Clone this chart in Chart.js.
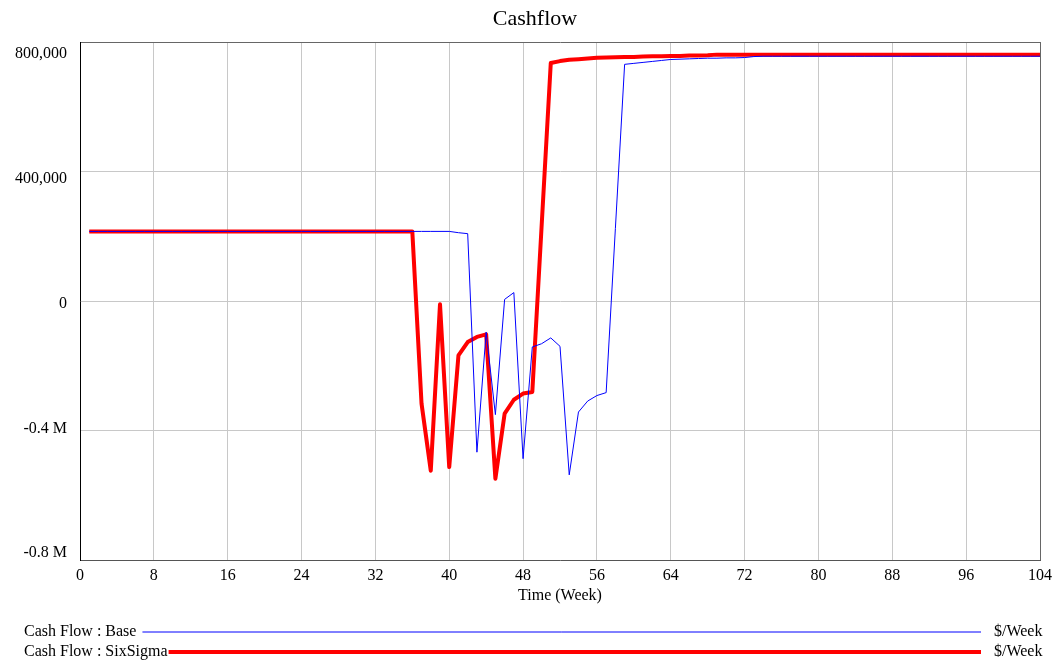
<!DOCTYPE html>
<html>
<head>
<meta charset="utf-8">
<script src="https://cdn.jsdelivr.net/npm/chart.js@4/dist/chart.umd.min.js"></script>
<style>
  html, body { margin: 0; padding: 0; background: #fff; }
  #wrap { width: 1054px; height: 663px; position: relative; }
</style>
</head>
<body>
<div id="wrap"><canvas id="cashChart"></canvas></div>
<script>
// Weeks 1..104
var weeks = [
  1, 2, 3, 4, 5, 6, 7, 8, 9, 10, 11, 12, 13, 14, 15, 16, 17, 18, 19, 20,
  21, 22, 23, 24, 25, 26, 27, 28, 29, 30, 31, 32, 33, 34, 35, 36, 37, 38, 39, 40,
  41, 42, 43, 44, 45, 46, 47, 48, 49, 50, 51, 52, 53, 54, 55, 56, 57, 58, 59, 60,
  61, 62, 63, 64, 65, 66, 67, 68, 69, 70, 71, 72, 73, 74, 75, 76, 77, 78, 79, 80,
  81, 82, 83, 84, 85, 86, 87, 88, 89, 90, 91, 92, 93, 94, 95, 96, 97, 98, 99, 100,
  101, 102, 103, 104
];

// Cash Flow : Base ($/Week)
var baseFlow = [
  215000, 215000, 215000, 215000, 215000, 215000, 215000, 215000, 215000, 215000,
  215000, 215000, 215000, 215000, 215000, 215000, 215000, 215000, 215000, 215000,
  215000, 215000, 215000, 215000, 215000, 215000, 215000, 215000, 215000, 215000,
  215000, 215000, 215000, 215000, 215000, 215000, 215000, 215000, 215000, 215000,
  211000, 208000, -467000, -96000, -351000, 5000, 26000, -487000, -142000, -132000,
  -114000, -140000, -537000, -343000, -309000, -292000, -283000, 224000, 731000, 734000,
  737000, 740000, 743000, 746000, 747000, 748000, 749000, 750000, 750000, 751000,
  751000, 752000, 755000, 756000, 756000, 756000, 756000, 756000, 756000, 756000,
  756000, 756000, 756000, 756000, 756000, 756000, 756000, 756000, 756000, 756000,
  756000, 756000, 756000, 756000, 756000, 756000, 756000, 756000, 756000, 756000,
  756000, 756000, 756000, 756000
];

// Cash Flow : SixSigma ($/Week)
var sixSigmaFlow = [
  215000, 215000, 215000, 215000, 215000, 215000, 215000, 215000, 215000, 215000,
  215000, 215000, 215000, 215000, 215000, 215000, 215000, 215000, 215000, 215000,
  215000, 215000, 215000, 215000, 215000, 215000, 215000, 215000, 215000, 215000,
  215000, 215000, 215000, 215000, 215000, 215000, -317000, -524000, -10000, -513000,
  -168000, -127000, -111000, -103000, -549000, -348000, -305000, -286000, -281000, 227000,
  735000, 741000, 745000, 747000, 749000, 751000, 752000, 753000, 754000, 754000,
  755000, 756000, 756000, 757000, 757000, 758000, 758000, 759000, 761000, 761000,
  761000, 761000, 761000, 761000, 761000, 761000, 761000, 761000, 761000, 761000,
  761000, 761000, 761000, 761000, 761000, 761000, 761000, 761000, 761000, 761000,
  761000, 761000, 761000, 761000, 761000, 761000, 761000, 761000, 761000, 761000,
  761000, 761000, 761000, 761000
];

var chartTitle = 'Cashflow';
var seriesNames = ['Cash Flow : Base', 'Cash Flow : SixSigma'];
var seriesUnits = ['$/Week', '$/Week'];
var yTickValues = [-800000, -400000, 0, 400000, 800000];
var yTickLabels = ['-0.8 M', '-0.4 M', '0', '400,000', '800,000'];

var FONT = "'Liberation Serif', 'Times New Roman', serif";
Chart.defaults.font.family = FONT;
Chart.defaults.color = '#000';

function toPoints(vals) {
  return vals.map(function(v, i) { return { x: weeks[i], y: v }; });
}

function gridColor(edgeValue) {
  return function(c) {
    return (c.tick && c.tick.value === edgeValue) ? '#666' : '#c8c8c8';
  };
}

// title on top, legend rows under the axis: name, line, unit
var frameText = {
  id: 'frameText',
  afterDraw: function(chart) {
    var ctx = chart.ctx;
    ctx.save();
    ctx.fillStyle = '#000';
    ctx.textBaseline = 'middle';
    ctx.textAlign = 'center';
    ctx.font = '22px ' + FONT;
    ctx.fillText(chartTitle, 535, 19);

    ctx.font = '16px ' + FONT;
    ctx.textAlign = 'left';
    chart.data.datasets.forEach(function(ds, i) {
      var y = 632 + i * 20;
      ctx.fillStyle = '#000';
      ctx.fillText(ds.label, 24, y);
      var x0 = 24 + ctx.measureText(ds.label).width + (ds.borderWidth > 2 ? 1 : 6);
      ctx.strokeStyle = ds.borderColor;
      ctx.lineWidth = ds.borderWidth;
      ctx.beginPath();
      ctx.moveTo(x0, y);
      ctx.lineTo(981, y);
      ctx.stroke();
      ctx.fillText(seriesUnits[i], 994, y);
    });
    ctx.restore();
  }
};

new Chart(document.getElementById('cashChart'), {
  type: 'line',
  data: {
    datasets: [
      {
        label: seriesNames[0],
        data: toPoints(baseFlow),
        borderColor: '#0000ff',
        backgroundColor: '#0000ff',
        borderWidth: 1,
        pointRadius: 0,
        tension: 0
      },
      {
        label: seriesNames[1],
        data: toPoints(sixSigmaFlow),
        borderColor: '#ff0000',
        backgroundColor: '#ff0000',
        borderWidth: 4,
        borderJoinStyle: 'round',
        pointRadius: 0,
        tension: 0
      }
    ]
  },
  options: {
    responsive: true,
    maintainAspectRatio: false,
    animation: false,
    layout: { padding: { left: 0, right: 14, top: 42, bottom: 50 } },
    plugins: {
      legend: { display: false },
      tooltip: { enabled: false },
      title: { display: false }
    },
    scales: {
      x: {
        type: 'linear',
        min: 0,
        max: 104,
        ticks: { stepSize: 8, padding: 6, color: '#000', font: { size: 16 } },
        grid: { color: gridColor(104), drawTicks: false },
        border: { color: '#555' },
        title: {
          display: true,
          text: 'Time (Week)',
          color: '#000',
          font: { size: 16 },
          padding: { top: 0, bottom: 8 }
        },
        afterFit: function(s) {
          s.height = 53;
          s.paddingLeft = 0;
          s.paddingRight = 0;
        }
      },
      y: {
        type: 'linear',
        position: 'left',
        min: -800000,
        max: 800000,
        ticks: { stepSize: 400000, display: false },
        grid: { color: gridColor(800000), drawTicks: false },
        border: { color: '#000' },
        afterFit: function(s) { s.width = 0; }
      },
      // label-only axis: Vensim pulls the edge labels inward a little
      yLabels: {
        type: 'linear',
        position: 'left',
        weight: 1,
        min: -822000,
        max: 838000,
        grid: { display: false, drawTicks: false },
        border: { display: false },
        ticks: {
          padding: 13,
          color: '#000',
          font: { size: 16 },
          callback: function(v) {
            var k = yTickValues.indexOf(v);
            return k >= 0 ? yTickLabels[k] : '';
          }
        },
        afterBuildTicks: function(s) {
          s.ticks = yTickValues.map(function(v) { return { value: v }; });
        },
        afterFit: function(s) { s.width = 80; }
      }
    }
  },
  plugins: [frameText]
});
</script>
</body>
</html>
